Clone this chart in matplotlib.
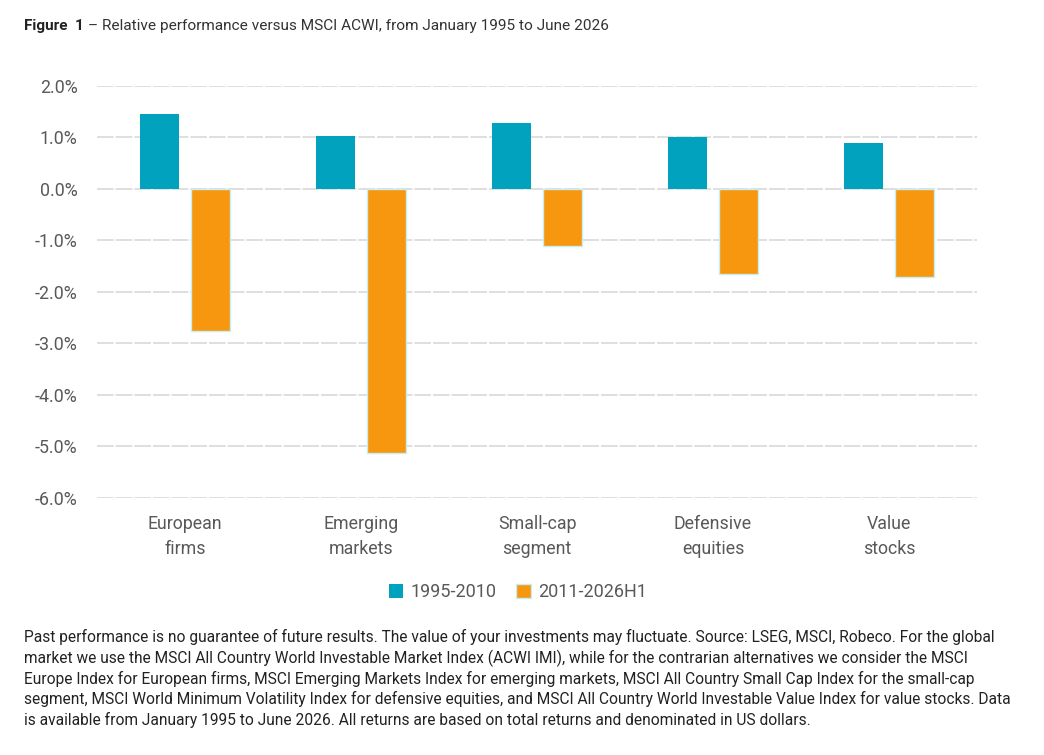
import numpy as np
import matplotlib.pyplot as plt
from matplotlib.ticker import FuncFormatter

categories = ["European\nfirms", "Emerging\nmarkets", "Small-cap\nsegment",
              "Defensive\nequities", "Value\nstocks"]
series_names = ["1995-2010", "2011-2026H1"]
period_1995_2010 = [1.46, 1.03, 1.28, 1.01, 0.89]
period_2011_2026 = [-2.75, -5.12, -1.10, -1.65, -1.71]

BLUE = "#00A2BD"
ORANGE = "#F7960F"
GREY_TEXT = "#595959"
FONT = ["Roboto", "DejaVu Sans"]

fig = plt.figure(figsize=(10.44, 7.55), dpi=100)
ax = fig.add_axes([0.0929, 0.3404, 0.843, 0.5457])

x = np.arange(len(categories))
width = 0.22
ax.bar(x - 0.145, period_1995_2010, width, color=BLUE, label=series_names[0], zorder=3)
ax.bar(x + 0.145, period_2011_2026, width, color=ORANGE, edgecolor="#c9eef0",
       linewidth=1, label=series_names[1], zorder=3)

ax.set_xlim(-0.5, 4.5)
ax.set_ylim(-6, 2)
ax.set_yticks(np.arange(-6, 2.1, 1))
ax.yaxis.set_major_formatter(FuncFormatter(lambda v, p: f"{v:.1f}%"))
ax.set_xticks(x)
ax.set_xticklabels(categories, linespacing=1.55)

ax.grid(axis="y", color="#d9d9d9", linewidth=1.2, linestyle=(0, (10, 1.2)), zorder=0)
for s in ax.spines.values():
    s.set_visible(False)
ax.tick_params(length=0)
ax.tick_params(axis="y", pad=14)
ax.tick_params(axis="x", pad=12)
for lbl in ax.get_yticklabels() + ax.get_xticklabels():
    lbl.set_family(FONT)
    lbl.set_fontsize(12.8)
    lbl.set_color(GREY_TEXT)

leg = fig.legend(loc="center", bbox_to_anchor=(0.496, 0.216), ncol=2, frameon=False,
                 handlelength=0.8, handleheight=0.8, handletextpad=0.4, columnspacing=1.1,
                 prop={"family": FONT, "size": 13})
for t in leg.get_texts():
    t.set_color(GREY_TEXT)

# title: bold "Figure 1" followed by the normal text
fig.canvas.draw()
head = fig.text(0.023, 0.966, "Figure  1", family=FONT, fontsize=11, color="#222222",
                fontweight="bold", va="center")
bb = head.get_window_extent(renderer=fig.canvas.get_renderer())
fig.text(bb.x1 / fig.bbox.width + 0.004, 0.966,
         "\u2013 Relative performance versus MSCI ACWI, from January 1995 to June 2026",
         family=FONT, fontsize=11.1, color="#333333", va="center")

footnote = ("Past performance is no guarantee of future results. The value of your investments may fluctuate. Source: LSEG, MSCI, Robeco. For the global\n"
            "market we use the MSCI All Country World Investable Market Index (ACWI IMI), while for the contrarian alternatives we consider the MSCI\n"
            "Europe Index for European firms, MSCI Emerging Markets Index for emerging markets, MSCI All Country Small Cap Index for the small-cap\n"
            "segment, MSCI World Minimum Volatility Index for defensive equities, and MSCI All Country World Investable Value Index for value stocks. Data\n"
            "is available from January 1995 to June 2026. All returns are based on total returns and denominated in US dollars.")
fig.text(0.023, 0.167, footnote, family=FONT, fontsize=11.2, color="#222222",
         va="top", linespacing=1.33)

fig.savefig("out.png", dpi=100)
